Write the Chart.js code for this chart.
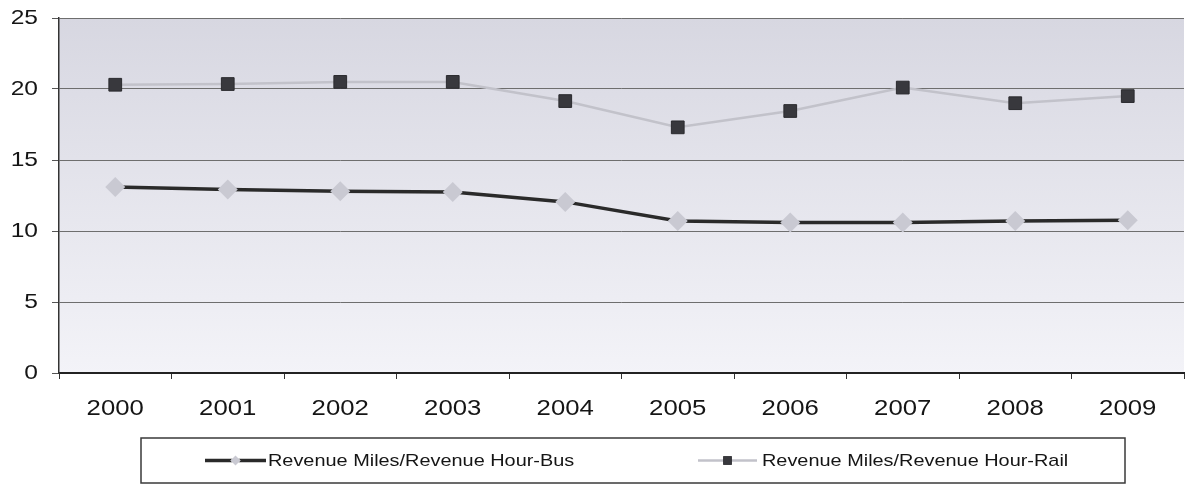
<!DOCTYPE html>
<html>
<head>
<meta charset="utf-8">
<style>
  html, body { margin: 0; padding: 0; background: #ffffff; }
  #wrap { width: 1186px; height: 486px; overflow: hidden; position: relative; }
  canvas { display: block; }
</style>
<script src="https://cdn.jsdelivr.net/npm/chart.js@4.4.1/dist/chart.umd.min.js"></script>
</head>
<body>
<div id="wrap"><canvas id="chart" width="1194" height="486"></canvas></div>
<script>
// Years on the category axis
const years = ['2000', '2001', '2002', '2003', '2004', '2005', '2006', '2007', '2008', '2009'];

// Revenue miles per revenue hour, by mode
const busValues  = [13.1, 12.93, 12.8, 12.75, 12.05, 10.7, 10.6, 10.6, 10.7, 10.75];
const railValues = [20.3, 20.35, 20.5, 20.5, 19.15, 17.3, 18.45, 20.1, 19.0, 19.5];

// Value axis ticks
const yTicks = [0, 5, 10, 15, 20, 25];

const busLabel  = 'Revenue Miles/Revenue Hour-Bus';
const railLabel = 'Revenue Miles/Revenue Hour-Rail';

const FONT = '"Liberation Sans", Arial, sans-serif';
const TEXT_STRETCH = 1.17;   // wide-set lettering, drawn as horizontally stretched Arial

// Text is drawn horizontally widened around its anchor point
const wideText = {
  id: 'wideText',
  beforeDraw(chart) {
    const ctx = chart.ctx;
    if (ctx.__wide) return;
    const plain = ctx.fillText.bind(ctx);
    ctx.fillText = function (text, x, y) {
      this.save();
      this.translate(x, y);
      this.scale(TEXT_STRETCH, 1);
      plain(text, 0, 0);
      this.restore();
    };
    ctx.__wide = true;
  }
};

// Soft lavender-grey gradient behind the plot area
const plotBackground = {
  id: 'plotBackground',
  beforeDraw(chart) {
    const { ctx, chartArea: a } = chart;
    const g = ctx.createLinearGradient(0, a.top, 0, a.bottom);
    g.addColorStop(0, '#d7d7e1');
    g.addColorStop(1, '#f3f3f8');
    ctx.save();
    ctx.fillStyle = g;
    ctx.fillRect(a.left, a.top, a.right - a.left, a.bottom - a.top);
    ctx.restore();
  }
};

// Boxed legend under the axis, each entry showing its line and marker
const boxedLegend = {
  id: 'boxedLegend',
  afterDraw(chart) {
    const ctx = chart.ctx;
    const box = { left: 141, top: 438, right: 1125, bottom: 483 };
    const cy = (box.top + box.bottom) / 2;
    ctx.save();
    ctx.fillStyle = '#ffffff';
    ctx.fillRect(box.left, box.top, box.right - box.left, box.bottom - box.top);
    ctx.strokeStyle = '#3a3a3a';
    ctx.lineWidth = 1.5;
    ctx.strokeRect(box.left, box.top, box.right - box.left, box.bottom - box.top);

    const entries = [
      { ds: chart.data.datasets[0], x0: 205, x1: 266, tx: 268, r: 5 },
      { ds: chart.data.datasets[1], x0: 698, x1: 757, tx: 762, r: 6 }
    ];
    entries.forEach(e => {
      const ds = e.ds;
      ctx.strokeStyle = ds.borderColor;
      ctx.lineWidth = ds.borderWidth;
      ctx.beginPath();
      ctx.moveTo(e.x0, cy);
      ctx.lineTo(e.x1, cy);
      ctx.stroke();
      Chart.helpers.drawPoint(ctx, {
        pointStyle: ds.pointStyle,
        radius: e.r,
        borderWidth: 0,
        rotation: 0
      }, (e.x0 + e.x1) / 2, cy);
      ctx.fillStyle = ds.pointBackgroundColor;
      ctx.fill();
      ctx.fillStyle = '#151515';
      ctx.font = '17px ' + FONT;
      ctx.textAlign = 'left';
      ctx.textBaseline = 'middle';
      ctx.fillText(ds.label, e.tx, cy + 1);
    });
    ctx.restore();
  }
};

new Chart(document.getElementById('chart'), {
  type: 'line',
  data: {
    labels: years,
    datasets: [
      {
        label: busLabel,
        data: busValues,
        borderColor: '#2a2a2a',
        borderWidth: 3.5,
        pointStyle: 'rectRot',
        pointRadius: 10,
        pointHoverRadius: 10,
        pointBackgroundColor: '#c9c9d2',
        pointBorderColor: '#c9c9d2',
        pointBorderWidth: 0,
        tension: 0
      },
      {
        label: railLabel,
        data: railValues,
        borderColor: '#c2c2ca',
        borderWidth: 2.5,
        pointStyle: 'rect',
        pointRadius: 9,
        pointHoverRadius: 9,
        pointBackgroundColor: '#38383d',
        pointBorderColor: '#2a2a2e',
        pointBorderWidth: 1,
        tension: 0
      }
    ]
  },
  options: {
    responsive: false,
    animation: false,
    devicePixelRatio: 1,
    layout: { padding: { left: 0, top: 18, right: 1, bottom: 63 } },
    plugins: {
      legend: { display: false },
      tooltip: { enabled: false }
    },
    scales: {
      x: {
        type: 'category',
        offset: true,
        grid: {
          offset: true,
          drawOnChartArea: false,
          drawTicks: true,
          tickLength: 6,
          color: '#333333',
          lineWidth: 1
        },
        border: { display: true, color: '#222222', width: 2 },
        ticks: {
          color: '#151515',
          font: { family: FONT, size: 22 },
          padding: 17,
          maxRotation: 0,
          autoSkip: false
        },
        afterFit(scale) {
          scale.height = 50;
          scale.paddingLeft = 0;
          scale.paddingRight = 0;
        }
      },
      y: {
        min: 0,
        max: 25,
        afterBuildTicks(scale) { scale.ticks = yTicks.map(v => ({ value: v })); },
        grid: {
          color: '#6e6e6e',
          lineWidth: 1,
          drawTicks: true,
          tickLength: 7,
          tickColor: '#555555'
        },
        border: { display: true, color: '#333333', width: 1.5 },
        ticks: {
          color: '#151515',
          font: { family: FONT, size: 21 },
          padding: 14
        },
        afterFit(scale) {
          scale.width = 59;
          scale.paddingTop = 0;
          scale.paddingBottom = 0;
        }
      }
    }
  },
  plugins: [wideText, plotBackground, boxedLegend]
});
</script>
</body>
</html>
